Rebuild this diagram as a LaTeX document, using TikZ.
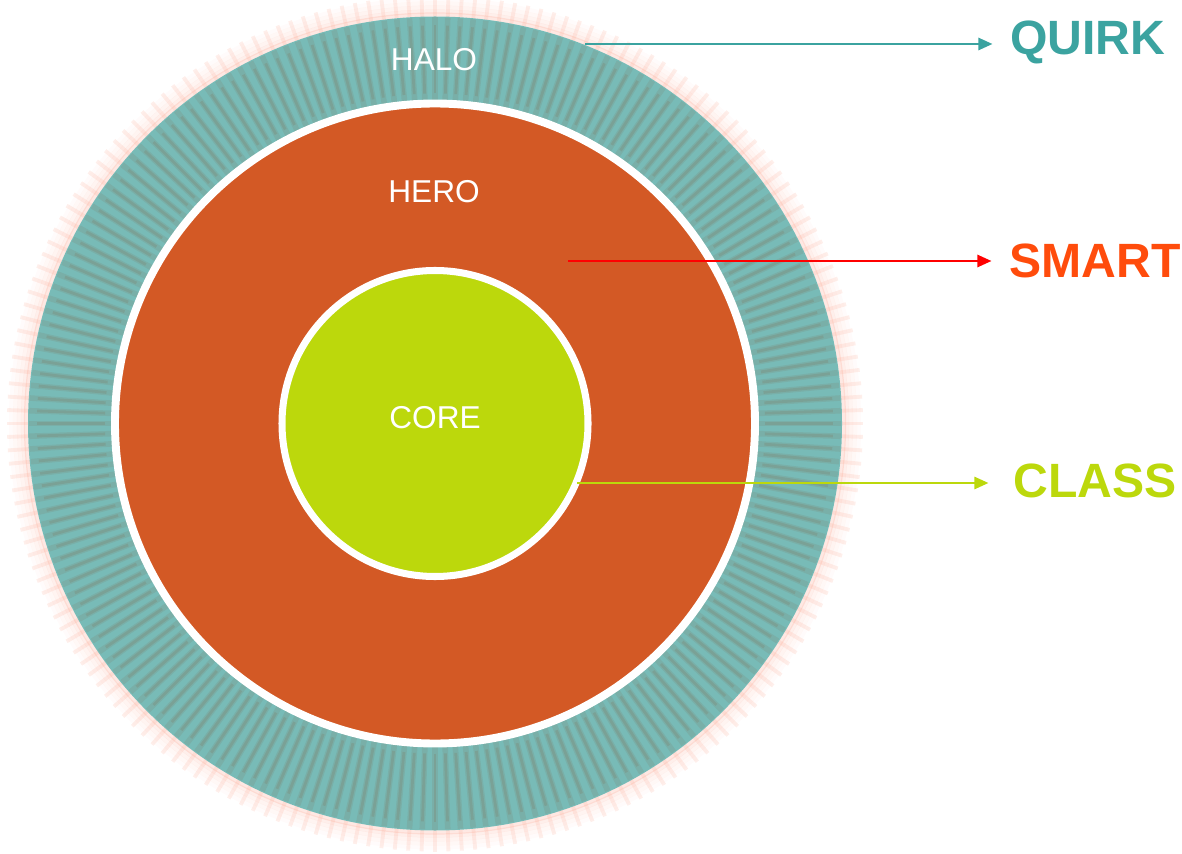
\documentclass[tikz,border=0pt]{standalone}
\usepackage{fontspec}
\setmainfont{Liberation Sans}
\usepackage{tikz}
\usetikzlibrary{arrows.meta,calc}

\definecolor{halocol}{HTML}{78BBB7}
\definecolor{stripecol}{HTML}{7E7E68}
\definecolor{glowcol}{HTML}{FBA48E}
\definecolor{herocol}{HTML}{D35925}
\definecolor{corecol}{HTML}{BCD80C}
\definecolor{quirkcol}{HTML}{3BA3A0}
\definecolor{smartcol}{HTML}{FF4C0C}
\definecolor{smartline}{HTML}{FF0000}

\begin{document}
\begin{tikzpicture}[x=0.02cm, y=-0.02cm]
        \tikzstyle{ring}=[fill=halocol]
        \tikzstyle{stripe}=[draw=stripecol, line width=3.2pt, opacity=0.18]
        \tikzstyle{stripecore}=[draw=stripecol, line width=1.6pt, opacity=0.28]
        \tikzstyle{inner}=[text=white, font=\fontsize{18}{21}\selectfont]
        \tikzstyle{tag}=[anchor=west, inner sep=0pt, font=\bfseries\fontsize{27.4}{31}\selectfont]
        \tikzstyle{pointer}=[line width=1.1pt, -{Triangle[length=8pt, width=7pt]}, shorten >=10pt]
        \useasboundingbox (0,0) rectangle (1182,854);
        \coordinate (c) at (435,423.5);
        % soft glow round the outer ring
        \foreach \r/\o in {424/0.04, 420/0.08, 416/0.12, 412/0.18, 409/0.25}
          \draw [glowcol, line width=2.4pt, opacity=\o] (c) circle [radius=\r];
        \foreach \i in {0,...,199}
          \draw [glowcol, line width=2.2pt, opacity=0.18] ($(c)+(\i*1.8:405)$) -- ($(c)+(\i*1.8:428)$);
        % rings
        \fill [ring] (c) circle [radius=407];
        \foreach \i in {0,...,199} {
          \draw [stripe] ($(c)+(\i*1.8:322)$) -- ($(c)+(\i*1.8:406)$);
          \draw [stripecore] ($(c)+(\i*1.8:330)$) -- ($(c)+(\i*1.8:398)$);
        }
        \filldraw [fill=herocol, draw=white, line width=4.5pt] (c) circle [radius=320];
        \filldraw [fill=corecol, draw=white, line width=4pt] (c) circle [radius=153];
        % names in the rings
        \node [inner] (halo) at (434,60) {HALO};
        \node [inner] (hero) at (434,192) {HERO};
        \node [inner] (core) at (435,418) {CORE};
        % labels on the right
        \node [tag, text=quirkcol] (quirk) at (1010,42) {QUIRK};
        \node [tag, text=smartcol] (smart) at (1009,261) {SMART};
        \node [tag, text=corecol] (class) at (1013,481) {CLASS};
        \coordinate (q0) at (585,44);
        \coordinate (s0) at (568,261);
        \coordinate (k0) at (577,483);
        \draw [pointer, quirkcol] (q0) -- (q0 -| quirk.west);
        \draw [pointer, smartline] (s0) -- (s0 -| smart.west);
        \draw [pointer, corecol] (k0) -- ([xshift=-4pt]k0 -| class.west);
\end{tikzpicture}
\end{document}
